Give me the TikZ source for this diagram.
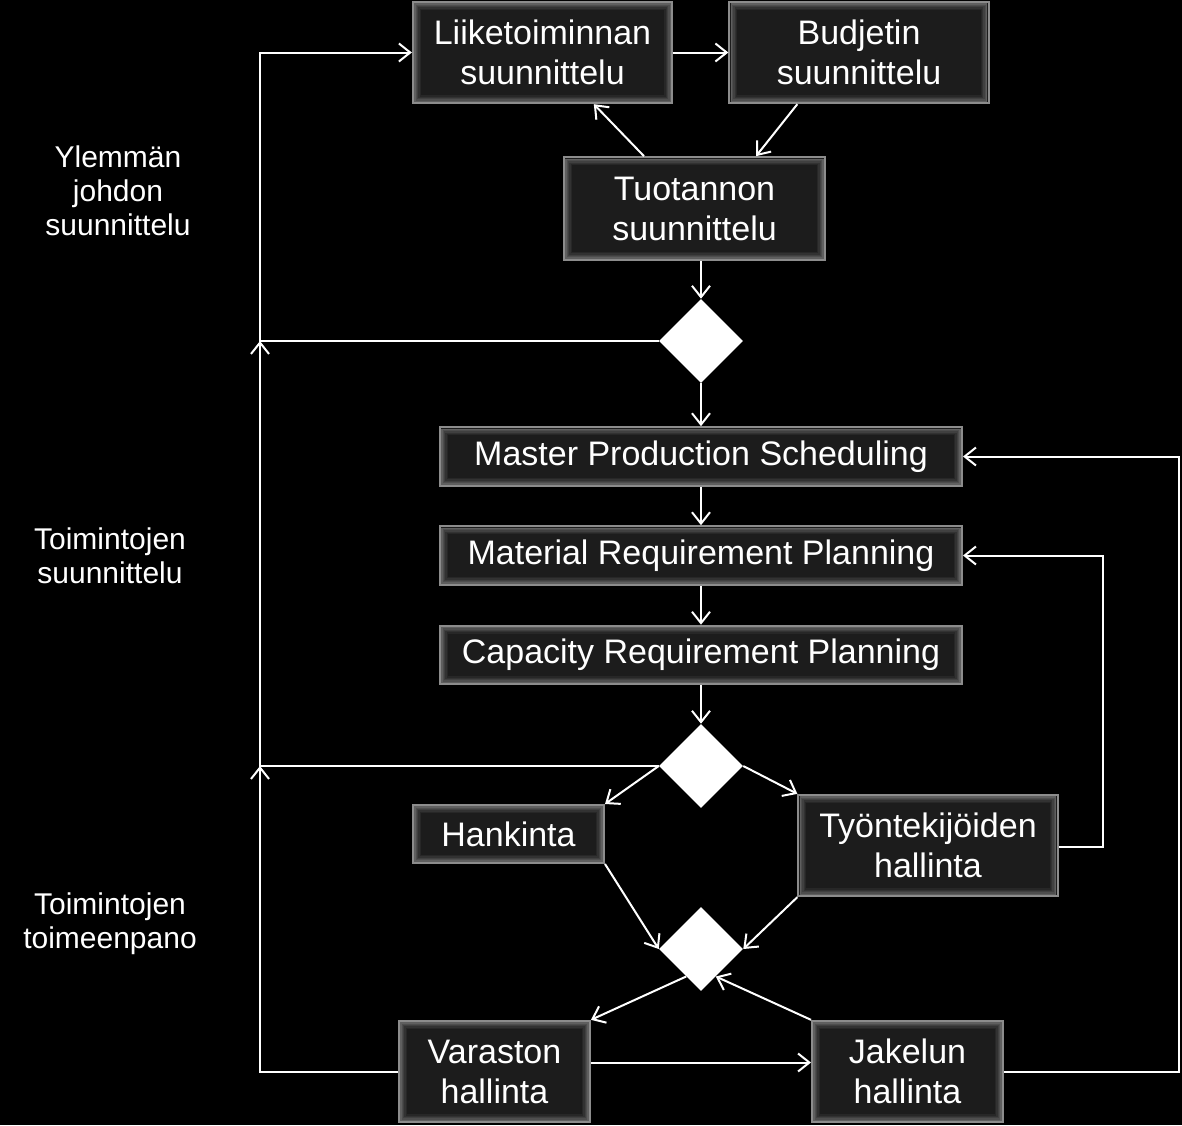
\documentclass[tikz,border=0pt]{standalone}
\usepackage{fontspec}
\setmainfont{Liberation Sans}
\usetikzlibrary{arrows.meta,shapes.geometric,calc}
\definecolor{boxfill}{HTML}{1C1C1C}
\definecolor{boxedge}{HTML}{8C8C8C}
\begin{document}
\begin{tikzpicture}[x=0.75pt,y=-0.75pt,
  box/.style={rectangle,fill=boxfill,draw=boxedge,line width=1.5pt,text=white,
    align=center,font=\fontsize{25.5}{30}\selectfont,inner sep=0pt,
    path picture={
      \foreach \k/\p in {1.5/60,2.5/45,3.5/32,4.5/20,5.5/10}{
        \draw[line width=1pt,color=boxedge!\p!boxfill]
          ($(path picture bounding box.south west)+(\k pt,\k pt)$) rectangle
          ($(path picture bounding box.north east)-(\k pt,\k pt)$);}}},
  bigbox/.style={box,minimum width=194.5pt,minimum height=76pt},
  widebox/.style={box,minimum width=391.5pt,minimum height=44pt},
  smallbox/.style={box,minimum width=143.25pt,minimum height=43.5pt},
  midbox/.style={box,minimum width=143.25pt,minimum height=76pt},
  dec/.style={diamond,fill=white,draw=none,inner sep=0pt,minimum width=63pt,minimum height=63pt,aspect=1},
  lab/.style={text=white,align=center,font=\fontsize{22.5}{25.5}\selectfont},
  conn/.style={draw=white,line width=1.5pt,-{Straight Barb[length=8.5pt,width=13.5pt,line width=1.5pt]}},
  plain/.style={draw=white,line width=1.5pt}]
\fill[black] (0,0) rectangle (1182,1125);
\useasboundingbox (0,0) rectangle (1182,1125);

\node[bigbox] (l) at (542.5,52.5) {Liiketoiminnan\\suunnittelu};
\node[bigbox] (b) at (859,52.5) {Budjetin\\suunnittelu};
\node[bigbox,minimum width=195.75pt,minimum height=77pt] (tu) at (694.5,208.5) {Tuotannon\\suunnittelu};
\node[dec] (d1) at (701,341) {};
\node[widebox] (mps) at (701,456.5) {Master Production Scheduling};
\node[widebox] (mrp) at (701,555.5) {Material Requirement Planning};
\node[widebox] (crp) at (701,655) {Capacity Requirement Planning};
\node[dec] (d2) at (701,766) {};
\node[smallbox] (h) at (508.5,834) {Hankinta};
\node[bigbox] (t) at (928,845.5) {Työntekijöiden\\hallinta};
\node[dec] (d3) at (701,949) {};
\node[midbox] (v) at (494.5,1071.5) {Varaston\\hallinta};
\node[midbox] (j) at (907.5,1071.5) {Jakelun\\hallinta};

\node[lab] (lab1) at (118,191) {Ylemmän\\johdon\\suunnittelu};
\node[lab] (lab2) at (110,556) {Toimintojen\\suunnittelu};
\node[lab] (lab3) at (110,924) {Toimintojen\\toimeenpano};

\coordinate (c1) at (260,341);
\coordinate (c2) at (260,766);
\coordinate (c3) at (260,1071.5);
\coordinate (r1) at (1179,1071.5);
\coordinate (r2) at (1103,847);

% top
\draw[conn] (l.east) -- (b.west);
\draw[conn] ($(b.south west)+(69,0)$) -- ($(tu.north west)+(193,0)$);
\draw[conn] ($(tu.north west)+(81,0)$) -- ($(l.south west)+(182,0)$);
\draw[conn] (tu.south -| d1.north) -- (d1.north);
\draw[conn] (d1.west) -- (c1) |- (l.west);
\draw[conn] (d1.south) -- (mps.north);
\draw[conn] (mps.south) -- (mrp.north);
\draw[conn] (mrp.south) -- (crp.north);
\draw[conn] (crp.south) -- (d2.north);
% lower
\draw[conn] (d2.west) -- (c2) -- (c1);
\draw[conn] (d2.west) -- (h.north east);
\draw[conn] (d2.east) -- (t.north west);
\draw[conn] (h.south east) -- (d3.west);
\draw[conn] (t.south west) -- (d3.east);
\draw[conn] ($(d3.south)!0.35!(d3.west)$) -- (v.north east);
\draw[conn] (j.north west) -- ($(d3.south)!0.35!(d3.east)$);
\draw[conn] ($(v.east)+(0,-9)$) -- ($(j.west)+(0,-9)$);
\draw[conn] (v.west) -- (c3) -- (c2);
\draw[conn] (j.east) -- (r1) |- (mps.east);
\draw[conn] (t.east |- r2) -- (r2) |- (mrp.east);
\end{tikzpicture}
\end{document}
